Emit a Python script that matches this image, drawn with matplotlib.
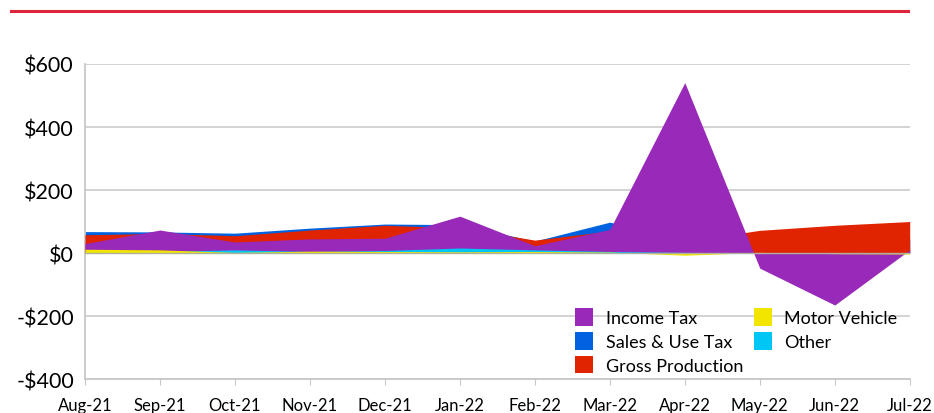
import matplotlib.pyplot as plt
import numpy as np

months = ["Aug-21", "Sep-21", "Oct-21", "Nov-21", "Dec-21", "Jan-22",
          "Feb-22", "Mar-22", "Apr-22", "May-22", "Jun-22", "Jul-22"]

sales_use = [68, 67, 63, 79, 92, 90, 38, 98, 40, 35, 40, 45]
gross_prod = [58, 62, 55, 73, 88, 80, 41, 70, 37, 72, 88, 100]
income_tax = [30, 73, 35, 45, 47, 117, 23, 75, 541, -48, -165, 10]
other = [5, 5, 10, 5, 8, 16, 10, 5, 2, 0, 0, 0]
motor_vehicle = [12, 10, 2, 6, 5, 4, 5, 3, -7, 2, -2, -3]

plt.rcParams['font.family'] = ['Lato', 'DejaVu Sans']

fig = plt.figure(figsize=(9.34, 4.14), dpi=100)
ax = fig.add_axes([0.091, 0.082, 0.883, 0.761])

x = np.arange(len(months))

# overlapping areas, drawn from zero (not stacked)
ax.fill_between(x, 0, sales_use, color="#0062e0", lw=0, zorder=2, label="Sales & Use Tax")
ax.fill_between(x, 0, gross_prod, color="#e02300", lw=0, zorder=3, label="Gross Production")
ax.fill_between(x, 0, income_tax, color="#9929b9", lw=0, zorder=4, label="Income Tax")
ax.fill_between(x, 0, other, color="#00c6f5", lw=0, zorder=5, label="Other")
ax.fill_between(x, 0, motor_vehicle, color="#f2e600", lw=0, zorder=6, label="Motor Vehicle")

ax.set_xlim(0, len(months) - 1)
ax.set_ylim(-400, 600)
ax.set_yticks([-400, -200, 0, 200, 400, 600])
ax.set_yticklabels(["-$400", "-$200", "$0", "$200", "$400", "$600"], fontsize=15.5)
ax.set_xticks(x)
ax.set_xticklabels(months, fontsize=12)

ax.grid(axis="y", color="#d0d0d0", lw=1.3, zorder=1)
ax.set_axisbelow(True)
ax.axhline(0, color="#b0b0a0", lw=1, zorder=7)
for s in ["top", "right"]:
    ax.spines[s].set_visible(False)
ax.spines["left"].set_color("#c8c8c8")
ax.spines["bottom"].set_color("#c8c8c8")
ax.spines["left"].set_linewidth(1.3)
ax.spines["bottom"].set_linewidth(1.3)
ax.tick_params(axis="y", length=0, pad=8)
ax.tick_params(axis="x", length=4, color="#c8c8c8", pad=9)

handles, labels = ax.get_legend_handles_labels()
order = ["Income Tax", "Sales & Use Tax", "Gross Production", "Motor Vehicle", "Other"]
hmap = dict(zip(labels, handles))
ax.legend([hmap[k] for k in order], order, ncol=2, frameon=False, fontsize=13,
          loc="lower right", bbox_to_anchor=(1.005, -0.035), handlelength=1.0,
          handleheight=1.1, columnspacing=0.6, labelspacing=0.33, handletextpad=0.7)

# red rule across the top
fig.add_artist(plt.Line2D([0.012, 0.972], [0.971, 0.971], color="#e0243c", lw=2.2))

fig.savefig("out.png", dpi=100)
